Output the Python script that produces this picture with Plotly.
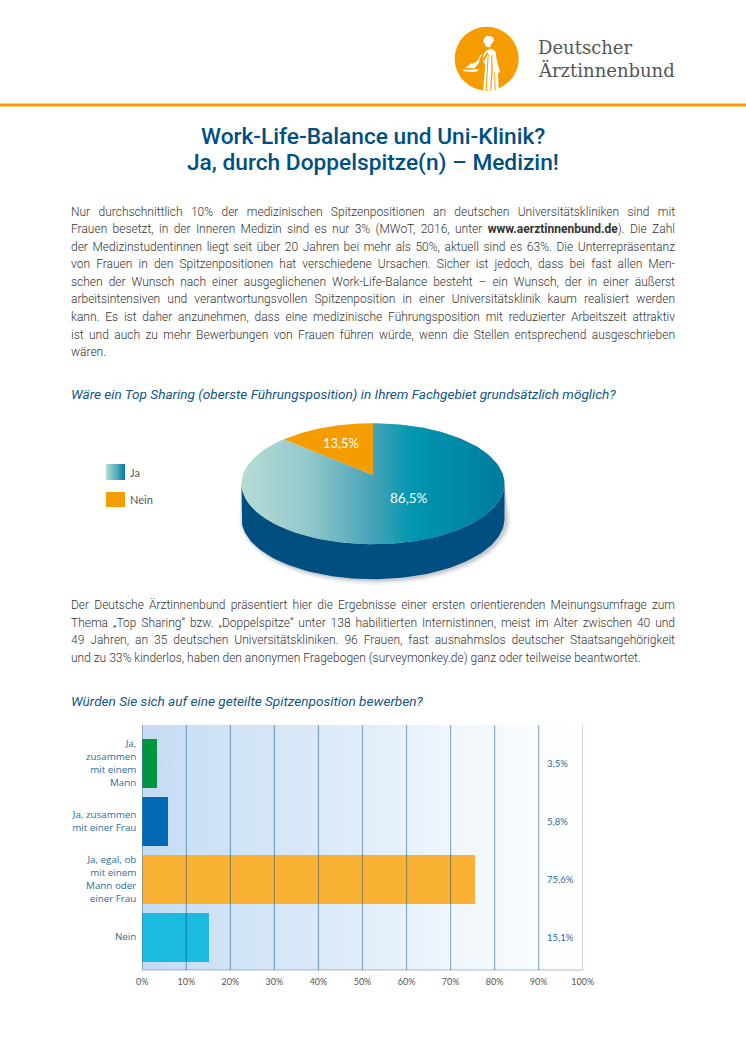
import json
import math
import plotly.graph_objects as go

W, H = 746, 1056

# ---------- data ----------
pie_labels = ["Ja", "Nein"]
pie_values = [86.5, 13.5]
bar_categories = ["Ja,<br>zusammen<br>mit einem<br>Mann", "Ja, zusammen<br>mit einer Frau",
                  "Ja, egal, ob<br>mit einem<br>Mann oder<br>einer Frau", "Nein"]
bar_values = [3.5, 5.8, 75.6, 15.1]
bar_colors = ["#009640", "#0069b4", "#f9b233", "#1bbae1"]
x_ticks = [0, 10, 20, 30, 40, 50, 60, 70, 80, 90, 100]

title_lines = ["Work-Life-Balance und Uni-Klinik?", "Ja, durch Doppelspitze(n) – Medizin!"]
para1 = [
    "Nur durchschnittlich 10% der medizinischen Spitzenpositionen an deutschen Universitätskliniken sind mit",
    "Frauen besetzt, in der Inneren Medizin sind es nur 3% (MWoT, 2016, unter <b>www.aerztinnenbund.de</b>). Die Zahl",
    "der Medizinstudentinnen liegt seit über 20 Jahren bei mehr als 50%, aktuell sind es 63%. Die Unterrepräsentanz",
    "von Frauen in den Spitzenpositionen hat verschiedene Ursachen. Sicher ist jedoch, dass bei fast allen Men-",
    "schen der Wunsch nach einer ausgeglichenen Work-Life-Balance besteht – ein Wunsch, der in einer äußerst",
    "arbeitsintensiven und verantwortungsvollen Spitzenposition in einer Universitätsklinik kaum realisiert werden",
    "kann. Es ist daher anzunehmen, dass eine medizinische Führungsposition mit reduzierter Arbeitszeit attraktiv",
    "ist und auch zu mehr Bewerbungen von Frauen führen würde, wenn die Stellen entsprechend ausgeschrieben",
    "wären.",
]
para2 = [
    "Der Deutsche Ärztinnenbund präsentiert hier die Ergebnisse einer ersten orientierenden Meinungsumfrage zum",
    "Thema „Top Sharing“ bzw. „Doppelspitze“ unter 138 habilitierten Internistinnen, meist im Alter zwischen 40 und",
    "49 Jahren, an 35 deutschen Universitätskliniken. 96 Frauen, fast ausnahmslos deutscher Staatsangehörigkeit",
    "und zu 33% kinderlos, haben den anonymen Fragebogen (surveymonkey.de) ganz oder teilweise beantwortet.",
]
question1 = "Wäre ein Top Sharing (oberste Führungsposition) in Ihrem Fachgebiet grundsätzlich möglich?"
question2 = "Würden Sie sich auf eine geteilte Spitzenposition bewerben?"


def de(v):
    return f"{v:.1f}".replace(".", ",") + "%"


# ---------- layout constants (pixels on the page) ----------
BLUE = "#004f82"
QBLUE = "#125686"
ORANGE = "#f59c00"
PLOT_L, PLOT_R, PLOT_T, PLOT_B = 142.3, 582.7, 725, 970
BAR_PITCH, BAR_FIRST = 58, 763
PIE_CX, PIE_CY, PIE_RX, PIE_RY, PIE_DEPTH = 373, 483.7, 131.5, 60.5, 35
PIE_L, PIE_R, PIE_T, PIE_B = 198, 548, 410, 600
TILT = 0.144  # perspective of the disc: the centre appears above the middle of the ellipse


def ydom(top, bottom):
    return [(H - bottom) / H, (H - top) / H]


def project(theta):
    """Clockwise angle from 12 o'clock on the tilted disc -> unit-ellipse coordinates."""
    X, Y = math.sin(theta), math.cos(theta)
    d = 1 + TILT * Y
    return X * math.sqrt(1 - TILT ** 2) / d, (Y + TILT) / d


def arc(a0, a1, n=160):
    return [project(a0 + (a1 - a0) * i / n) for i in range(n + 1)]


fig = go.Figure()

# --- bar chart background gradient (lowest subplot, so the bars stay above it)
band_top = (PLOT_T - BAR_FIRST) / BAR_PITCH
band_bottom = (PLOT_B - BAR_FIRST) / BAR_PITCH
fig.add_trace(go.Scatter(x=[0, 100, 100, 0, 0],
                         y=[band_top, band_top, band_bottom, band_bottom, band_top],
                         xaxis="x", yaxis="y",
                         mode="lines", line=dict(width=0), fill="toself",
                         fillgradient=dict(type="horizontal",
                                           colorscale=[[0, "#c3daf2"], [0.1, "#cbe0f6"], [0.4, "#dae9f8"],
                                                       [0.7, "#eff6fc"], [1, "#ffffff"]]),
                         hoverinfo="skip"))

# --- pie, on its own axes where the rim is the unit circle
frac = [v / sum(pie_values) for v in pie_values]
a_ja = 2 * math.pi * frac[0]
apex = (0.0, TILT)
dy = PIE_DEPTH / PIE_RY

for grow, alpha in [(5, 0.04), (3.5, 0.05), (2, 0.07), (1, 0.09)]:
    gx, gy = 1 + grow / PIE_RX, 1 + grow / PIE_RY
    sx = 2 / PIE_RX
    lower = [(sx + gx * math.cos(-math.pi * i / 100), gy * math.sin(-math.pi * i / 100) - dy - 1 / PIE_RY)
             for i in range(101)]
    pts = [(-1, 0), (1, 0)] + lower
    fig.add_trace(go.Scatter(x=[p[0] for p in pts], y=[p[1] for p in pts], xaxis="x2", yaxis="y2",
                             mode="lines", line=dict(width=0), fill="toself",
                             fillcolor=f"rgba(30,40,50,{alpha})", hoverinfo="skip"))

side_top = [(math.cos(-math.pi * i / 100), math.sin(-math.pi * i / 100)) for i in range(101)]
side_bot = [(x, y - dy) for x, y in reversed(side_top)]
side = side_top + side_bot
fig.add_trace(go.Scatter(x=[p[0] for p in side], y=[p[1] for p in side], xaxis="x2", yaxis="y2",
                         mode="lines", line=dict(width=0), fill="toself", fillcolor="#004f80",
                         hoverinfo="skip"))

ja_pts = [apex] + arc(0, a_ja) + [apex]
fig.add_trace(go.Scatter(x=[p[0] for p in ja_pts], y=[p[1] for p in ja_pts], xaxis="x2", yaxis="y2",
                         name=pie_labels[0], mode="lines", line=dict(width=0), fill="toself",
                         fillgradient=dict(type="horizontal",
                                           colorscale=[[0, "#b5dcd4"], [0.25, "#94c9cb"], [0.5, "#46a3b9"],
                                                       [0.65, "#0096b0"], [1, "#007b9f"]]),
                         hoverinfo="skip"))
nein_pts = [apex] + arc(a_ja, 2 * math.pi) + [apex]
fig.add_trace(go.Scatter(x=[p[0] for p in nein_pts], y=[p[1] for p in nein_pts], xaxis="x2", yaxis="y2",
                         name=pie_labels[1], mode="lines", line=dict(width=0), fill="toself",
                         fillcolor=ORANGE, hoverinfo="skip"))

# --- legend swatches on a page-wide axis measured in pixels
for name, y0, y1, kw in [
    (pie_labels[0], 464, 480, dict(fillgradient=dict(type="horizontal",
                                                     colorscale=[[0, "#b5dcd4"], [0.5, "#5fb0c0"], [1, "#007b9f"]]))),
    (pie_labels[1], 492, 507, dict(fillcolor=ORANGE)),
]:
    fig.add_trace(go.Scatter(x=[106, 125, 125, 106, 106], y=[y0, y0, y1, y1, y0], xaxis="x3", yaxis="y3",
                             mode="lines", line=dict(width=0), fill="toself", hoverinfo="skip", **kw))

# --- bars and their values
bar_pos = list(range(len(bar_values)))
fig.add_trace(go.Bar(x=bar_values, y=bar_pos, orientation="h", width=49 / 58, xaxis="x4", yaxis="y4",
                     marker=dict(color=bar_colors, line=dict(width=0)), hoverinfo="x+y"))
fig.add_trace(go.Scatter(x=[91.9] * len(bar_pos), y=[p + 0.035 for p in bar_pos], mode="text",
                         xaxis="x4", yaxis="y4",
                         text=[de(v) for v in bar_values], textposition="middle right",
                         textfont=dict(family="Lato", size=9.5, color="#2b6c9e"), hoverinfo="skip"))

# --- shapes
shapes = []
for t in x_ticks:
    col = "rgba(0,70,125,0.62)" if t == 0 else ("rgba(0,70,125,0.34)" if t == 100 else "rgba(0,70,125,0.42)")
    shapes.append(dict(type="line", xref="x4", yref="y4 domain", x0=t, x1=t, y0=0, y1=1,
                       line=dict(color=col, width=1.2), layer="above"))
shapes.append(dict(type="line", xref="x4 domain", yref="y4 domain", x0=0, x1=1, y0=0, y1=0,
                   line=dict(color="rgba(0,70,125,0.34)", width=1.2), layer="above"))
shapes.append(dict(type="line", xref="x3", yref="y3", x0=0, x1=W, y0=105, y1=105,
                   line=dict(color=ORANGE, width=3)))
shapes.append(dict(type="circle", xref="x3", yref="y3", x0=454.7, x1=518.7, y0=26.7, y1=90.7,
                   fillcolor=ORANGE, line=dict(width=0)))


def zp(pts):
    return "M " + " L ".join(f"{450 + x / 3:.1f},{22 + y / 3:.1f}" for x, y in pts) + " Z"


logo_white = [
    [(100, 60), (102, 50), (110, 42), (122, 42), (131, 48), (131, 58), (124, 66), (120, 76), (108, 74), (105, 66)],
    [(103, 92), (112, 84), (126, 80), (136, 88), (140, 112), (150, 150), (144, 154), (146, 198), (142, 205),
     (100, 205), (102, 170), (106, 130), (98, 112)],
    [(100, 94), (90, 108), (86, 124), (72, 140), (62, 133), (72, 122), (82, 118), (90, 102)],
    [(36, 143), (60, 143), (88, 141), (82, 148), (68, 150), (44, 148)],
    [(46, 138), (54, 131), (64, 124), (72, 126), (74, 134), (62, 139)],
]
logo_orange = [
    [(113, 96), (116, 96), (110, 205), (107, 205)],
    [(124, 100), (127, 100), (128, 150), (124, 205), (121, 205), (124, 150)],
    [(133, 150), (135, 150), (137, 205), (134, 205)],
    [(98, 112), (112, 90), (115, 93), (103, 118)],
]
for poly in logo_white:
    shapes.append(dict(type="path", xref="x3", yref="y3", path=zp(poly), fillcolor="#ffffff", line=dict(width=0)))
for poly in logo_orange:
    shapes.append(dict(type="path", xref="x3", yref="y3", path=zp(poly), fillcolor=ORANGE, line=dict(width=0)))

# --- texts
annotations = []


def ann(px, py, text, size, color, family="Roboto", weight=None, style=None, xanchor="left"):
    f = dict(family=family, size=size, color=color)
    if weight:
        f["weight"] = weight
    if style:
        f["style"] = style
    annotations.append(dict(xref="paper", yref="paper", x=px / W, y=1 - py / H, text=text, showarrow=False,
                            xanchor=xanchor, yanchor="middle", align=xanchor if xanchor != "center" else "center",
                            font=f, borderpad=0, borderwidth=0))


ann(538, 48, "Deutscher", 18, "#555555", family="DejaVu Serif")
ann(538, 70, "Ärztinnenbund", 18, "#555555", family="DejaVu Serif")
ann(372.5, 136, title_lines[0], 22.7, BLUE, weight=500, xanchor="center")
ann(372.5, 163, title_lines[1], 22.7, BLUE, weight=500, xanchor="center")
for i, line in enumerate(para1):
    ann(71, 211.7 + i * 17.55, line, 12, "#333333", weight=300)
for i, line in enumerate(para2):
    ann(71, 605.3 + i * 17.55, line, 12, "#333333", weight=300)
ann(71, 394, question1, 13.6, QBLUE, weight=400, style="italic")
ann(71, 700.5, question2, 13.6, QBLUE, weight=400, style="italic")
ann(341, 443, de(pie_values[1]), 13, "#ffffff", family="Lato", xanchor="center")
ann(409, 498, de(pie_values[0]), 13.5, "#ffffff", family="Lato", xanchor="center")
ann(130, 472, pie_labels[0], 11, "#555555", family="Lato")
ann(130, 499, pie_labels[1], 11, "#555555", family="Lato")

hidden = dict(visible=False, automargin=False)
fig.update_layout(
    width=W, height=H, margin=dict(l=0, r=0, t=0, b=0, pad=0), autosize=False,
    paper_bgcolor="#ffffff", plot_bgcolor="rgba(0,0,0,0)", showlegend=False,
    shapes=shapes, annotations=annotations, bargap=0,
    xaxis=dict(domain=[PLOT_L / W, PLOT_R / W], range=[0, 100], anchor="y", **hidden),
    yaxis=dict(domain=ydom(PLOT_T, PLOT_B), range=[band_bottom, band_top], anchor="x", **hidden),
    xaxis2=dict(domain=[PIE_L / W, PIE_R / W],
                range=[(PIE_L - PIE_CX) / PIE_RX, (PIE_R - PIE_CX) / PIE_RX], anchor="y2", **hidden),
    yaxis2=dict(domain=ydom(PIE_T, PIE_B),
                range=[(PIE_CY - PIE_B) / PIE_RY, (PIE_CY - PIE_T) / PIE_RY], anchor="x2", **hidden),
    xaxis3=dict(domain=[0, 1], range=[0, W], anchor="y3", **hidden),
    yaxis3=dict(domain=[0, 1], range=[H, 0], anchor="x3", **hidden),
    xaxis4=dict(domain=[PLOT_L / W, PLOT_R / W], range=[0, 100], tickvals=x_ticks,
                ticktext=[f"{t}%" for t in x_ticks], showgrid=False, zeroline=False, showline=False,
                ticks="outside", ticklen=3, tickcolor="rgba(0,0,0,0)", automargin=False,
                tickfont=dict(family="Lato", size=9, color="#555555"), anchor="y4"),
    yaxis4=dict(domain=ydom(PLOT_T, PLOT_B), range=[band_bottom, band_top],
                tickvals=bar_pos, ticktext=bar_categories, showgrid=False, zeroline=False, showline=False,
                ticks="outside", ticklen=3, tickcolor="rgba(0,0,0,0)", automargin=False,
                tickfont=dict(family="Open Sans", size=9.8, color="#2b6c9e"), anchor="x4"),
)

justify = [s.replace("<b>", "").replace("</b>", "") for s in para1[:-1] + para2[:-1]]
post = """
document.body.style.margin = '0';
var targets = %s, right = 604;
document.querySelectorAll('text.annotation-text').forEach(function (t) {
  var s = t.textContent;
  if (targets.indexOf(s) < 0) return;
  var gaps = s.split(' ').length - 1;
  var ws = (right - t.getComputedTextLength()) / gaps;
  t.style.wordSpacing = ws.toFixed(3) + 'px';
});
""" % json.dumps(justify, ensure_ascii=False)

fig.write_html("out.html", post_script=post, config=dict(displayModeBar=False))
